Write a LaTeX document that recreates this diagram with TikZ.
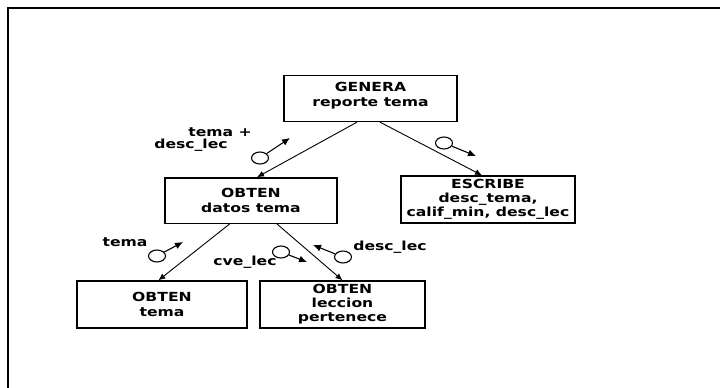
\documentclass[tikz,border=0pt]{standalone}
\usepackage{fontspec}
\setmainfont{DejaVu Sans}
\usepackage{graphicx}
\usetikzlibrary{arrows.meta,shapes.geometric,calc}
\newcommand\hs[1]{\scalebox{1.25}[1]{#1}}
\begin{document}
\begin{tikzpicture}[x=1pt,y=-1pt,
  box/.style={draw,line width=1.3pt,minimum width=#1,minimum height=46pt,inner sep=0pt,align=center,font=\fontsize{12.5}{14.5}\selectfont\bfseries},
  conn/.style={line width=0.9pt,-{Latex[length=7pt,width=6pt]}},
  couple/.style={draw,ellipse,line width=1.1pt,minimum width=17pt,minimum height=12pt,inner sep=0pt},
  cplarrow/.style={line width=1.1pt,-{Latex[length=8pt,width=7pt]}},
  lbl/.style={inner sep=0pt,font=\fontsize{12.5}{14.5}\selectfont\bfseries}
]
\useasboundingbox (0,0) rectangle (720,388);
\draw[line width=2pt] (8,388) -- (8,7.5) -- (720,7.5);

\node[box=173pt] (gen) at (370.5,98.5) {\hs{GENERA}\\\hs{reporte tema}\\[-6pt]\mbox{}};
\node[box=172pt,minimum height=45.5pt] (datos) at (251,200.6) {\hs{OBTEN}\\\hs{datos tema}};
\node[box=174pt,minimum height=47pt,font=\fontsize{12.5}{14.3}\selectfont\bfseries] (escribe) at (488,199.5) {\hs{ESCRIBE}\\\hs{desc\_tema,}\\\hs{calif\_min, desc\_lec}};
\node[box=170pt,minimum height=47pt] (tema) at (162,304.5) {\hs{OBTEN}\\\hs{tema}};
\node[box=165pt,minimum height=47pt,font=\fontsize{12.5}{14}\selectfont\bfseries] (lecc) at (342.5,304.5) {\hs{OBTEN}\\\hs{leccion}\\\hs{pertenece}};

\draw[conn] ([xshift=-13.5pt]gen.south) -- ([xshift=6pt]datos.north);
\draw[conn] ([xshift=9.5pt]gen.south) -- ([xshift=-6pt]escribe.north);
\draw[conn] ([xshift=-21.4pt]datos.south) -- ([xshift=-3.6pt]tema.north);
\draw[conn] ([xshift=26pt]datos.south) -- (lecc.north);

% couples
\node[couple] (c1) at (260,158) {};
\coordinate (c1h) at (290,138);
\draw[cplarrow] (c1) -- (c1h);
\node[lbl] (l1a) at (220,132) {\hs{tema +}};
\node[lbl] (l1b) at (191,145.5) {\hs{desc\_lec}};

\node[couple] (c2) at (444,143) {};
\coordinate (c2h) at (476,156);
\draw[cplarrow] (c2) -- (c2h);

\node[couple] (c3) at (157,256) {};
\coordinate (c3h) at (183,242);
\draw[cplarrow] (c3) -- (c3h);
\node[lbl] (l3) at (125,242) {\hs{tema}};

\node[couple] (c4) at (281,252) {};
\coordinate (c4h) at (307,262);
\draw[cplarrow] (c4) -- (c4h);
\node[lbl] (l4) at (245,262) {\hs{cve\_lec}};

\node[couple] (c5) at (343,257) {};
\coordinate (c5h) at (313,245);
\draw[cplarrow] (c5) -- (c5h);
\node[lbl] (l5) at (390,247) {\hs{desc\_lec}};
\end{tikzpicture}
\end{document}
